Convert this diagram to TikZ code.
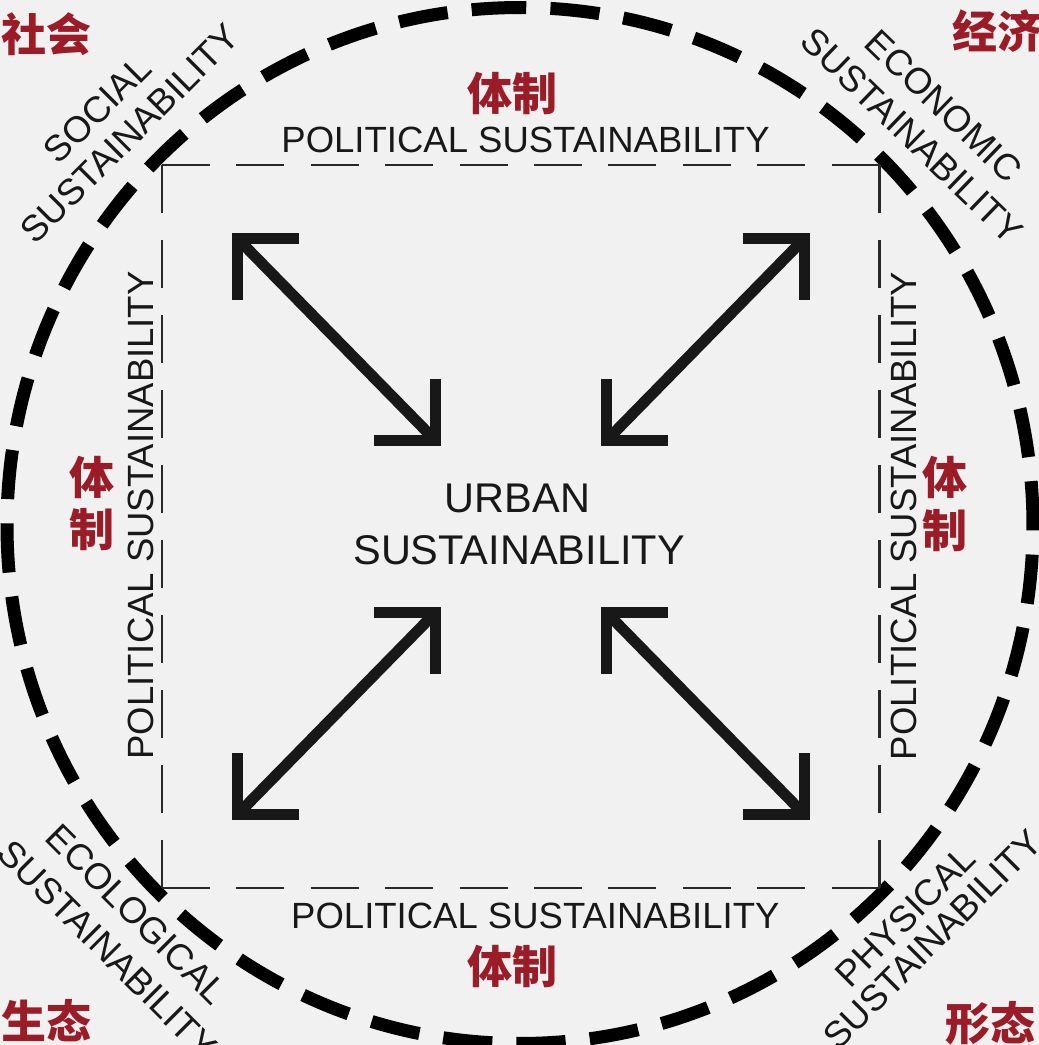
\documentclass[tikz,border=0pt]{standalone}
\usepackage{fontspec}
\setmainfont{Liberation Sans}
\newfontfamily\cjk{Noto Sans CJK SC}
\definecolor{bg}{RGB}{241,241,241}
\definecolor{ink}{RGB}{24,24,24}
\definecolor{sqcol}{RGB}{40,40,40}
\definecolor{cnred}{RGB}{155,27,38}
\begin{document}
\begin{tikzpicture}[x=1pt,y=-1pt,
  ring/.style={line width=13pt, draw=black, dash pattern=on 49.3pt off 24.2pt, line cap=butt},
  sqh/.style={line width=2.6pt, draw=sqcol, dash pattern=on 48pt off 26.4pt},
  sqv/.style={line width=2.6pt, draw=sqcol, dash pattern=on 48pt off 27pt},
  arr/.style={line width=11pt, draw=ink, line join=miter, line cap=butt},
  lbl/.style={inner sep=0pt, text=ink, font=\fontsize{36.5}{40}\selectfont, text height=26.1pt, text depth=0pt},
  ctr/.style={inner sep=0pt, text=ink, font=\fontsize{41.5}{46}\selectfont, text height=29.7pt, text depth=0pt},
  cn/.style={inner sep=0pt, text=cnred, font=\cjk\bfseries\fontsize{45}{52}\selectfont, text height=34.2pt, text depth=0pt}
]
\fill[bg] (0,0) rectangle (1039,1045);
\useasboundingbox (0,0) rectangle (1039,1045);
\clip (0,0) rectangle (1039,1045);

% outer dashed ring
\draw[ring] (520,525.5) ++(-89.9:513 and 518) arc[start angle=-89.9, end angle=-449.9, x radius=513, y radius=518];

% dashed square
\coordinate (nw) at (162,165);
\coordinate (ne) at (879.5,165);
\coordinate (sw) at (162,888);
\coordinate (se) at (879.5,888);
\draw[sqh] (nw) -- (ne);
\draw[sqh] (sw) -- (se);
\draw[sqv] (nw) -- (sw);
\draw[sqv] (ne) -- (se);

% arrows
\coordinate (p1) at (237.5,238.5);
\coordinate (q1) at (435.5,440.5);
\coordinate (p2) at (804.5,238.5);
\coordinate (q2) at (606.5,440.5);
\coordinate (p3) at (237.5,814.5);
\coordinate (q3) at (435.5,612.5);
\coordinate (p4) at (804.5,814.5);
\coordinate (q4) at (606.5,612.5);
\draw[arr] (p1) -- (q1);
\draw[arr] (p2) -- (q2);
\draw[arr] (p3) -- (q3);
\draw[arr] (p4) -- (q4);
\draw[arr] (p1) ++(61.5,0) -- (p1) -- ++(0,61.5);
\draw[arr] (q1) ++(-61.5,0) -- (q1) -- ++(0,-61.5);
\draw[arr] (p2) ++(-61.5,0) -- (p2) -- ++(0,61.5);
\draw[arr] (q2) ++(61.5,0) -- (q2) -- ++(0,-61.5);
\draw[arr] (p3) ++(61.5,0) -- (p3) -- ++(0,-61.5);
\draw[arr] (q3) ++(-61.5,0) -- (q3) -- ++(0,61.5);
\draw[arr] (p4) ++(-61.5,0) -- (p4) -- ++(0,-61.5);
\draw[arr] (q4) ++(61.5,0) -- (q4) -- ++(0,61.5);

% political labels
\node[lbl] (ptop) at (525.5,139.7) {POLITICAL SUSTAINABILITY};
\node[lbl] (pbot) at (535.3,915) {POLITICAL SUSTAINABILITY};
\node[lbl,rotate=90] (pleft) at (140,515.5) {POLITICAL SUSTAINABILITY};
\node[lbl,rotate=90] (pright) at (903.5,516) {POLITICAL SUSTAINABILITY};

% centre
\node[ctr] (urb1) at (517.5,498) {URBAN};
\node[ctr] (urb2) at (519,550) {SUSTAINABILITY};

% corner labels
\node[lbl,rotate=45] (soc1) at (97,109) {SOCIAL};
\node[lbl,rotate=45] (soc2) at (129.5,133.3) {SUSTAINABILITY};
\node[lbl,rotate=-44] (eco1) at (944,106) {ECONOMIC};
\node[lbl,rotate=-44] (eco2) at (912.5,135.7) {SUSTAINABILITY};
\node[lbl,rotate=-45] (ecl1) at (137,914) {ECOLOGICAL};
\node[lbl,rotate=-45] (ecl2) at (108,949) {SUSTAINABILITY};
\node[lbl,rotate=45] (phy1) at (905,916) {PHYSICAL};
\node[lbl,rotate=45] (phy2) at (932,939) {SUSTAINABILITY};

% Chinese labels
\node[cn] (zsh) at (46.5,34) {社会};
\node[cn] (zjj) at (997,31) {经济};
\node[cn] (zst) at (46.5,1021) {生态};
\node[cn] (zxt) at (990,1023) {形态};
\node[cn] (ztop) at (512,93.5) {体制};
\node[cn] (zbot) at (512,966.5) {体制};
\node[cn] (zl1) at (91.5,477.5) {体};
\node[cn] (zl2) at (91.5,529.5) {制};
\node[cn] (zr1) at (944.5,477.5) {体};
\node[cn] (zr2) at (944.5,530) {制};
\end{tikzpicture}
\end{document}
